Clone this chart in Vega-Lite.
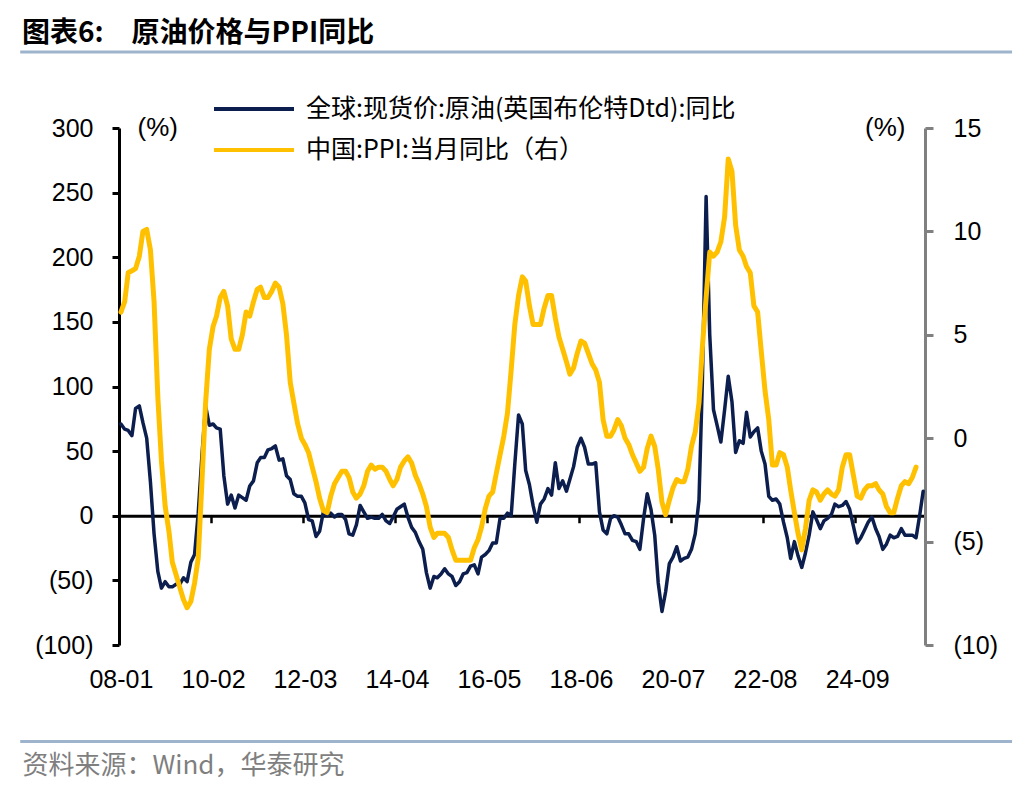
{
  "$schema": "https://vega.github.io/schema/vega-lite/v6.json",
  "autosize": {"type": "none"},
  "padding": {"left": 119, "top": 128, "right": 107, "bottom": 147},
  "width": 806,
  "height": 517,
  "background": "white",
  "title": {
    "text": "图表6:　原油价格与PPI同比",
    "anchor": "start",
    "frame": "group",
    "dx": -97,
    "dy": 11,
    "offset": 0,
    "baseline": "middle",
    "font": "Noto Sans CJK SC",
    "fontSize": 28,
    "fontWeight": "bold",
    "color": "#000000"
  },
  "data": {
    "format": {"parse": {"date": "date:'%Y-%m'"}},
    "values": [
      {"date": "2008-01", "brent": 71, "ppi": 6.1},
      {"date": "2008-02", "brent": 67, "ppi": 6.6},
      {"date": "2008-03", "brent": 66, "ppi": 8.0},
      {"date": "2008-04", "brent": 62, "ppi": 8.1},
      {"date": "2008-05", "brent": 83, "ppi": 8.2},
      {"date": "2008-06", "brent": 85, "ppi": 8.8},
      {"date": "2008-07", "brent": 72, "ppi": 10.0},
      {"date": "2008-08", "brent": 60, "ppi": 10.1},
      {"date": "2008-09", "brent": 26, "ppi": 9.1},
      {"date": "2008-10", "brent": -14, "ppi": 6.6},
      {"date": "2008-11", "brent": -43, "ppi": 2.0},
      {"date": "2008-12", "brent": -56, "ppi": -1.1},
      {"date": "2009-01", "brent": -51, "ppi": -3.3},
      {"date": "2009-02", "brent": -55, "ppi": -4.5},
      {"date": "2009-03", "brent": -55, "ppi": -6.0},
      {"date": "2009-04", "brent": -53, "ppi": -6.6},
      {"date": "2009-05", "brent": -53, "ppi": -7.2},
      {"date": "2009-06", "brent": -48, "ppi": -7.8},
      {"date": "2009-07", "brent": -51, "ppi": -8.2},
      {"date": "2009-08", "brent": -36, "ppi": -7.9},
      {"date": "2009-09", "brent": -30, "ppi": -7.0},
      {"date": "2009-10", "brent": 2, "ppi": -5.8},
      {"date": "2009-11", "brent": 47, "ppi": -2.1},
      {"date": "2009-12", "brent": 85, "ppi": 1.7},
      {"date": "2010-01", "brent": 70, "ppi": 4.3},
      {"date": "2010-02", "brent": 71, "ppi": 5.4},
      {"date": "2010-03", "brent": 68, "ppi": 5.9},
      {"date": "2010-04", "brent": 67, "ppi": 6.8},
      {"date": "2010-05", "brent": 31, "ppi": 7.1},
      {"date": "2010-06", "brent": 9, "ppi": 6.4},
      {"date": "2010-07", "brent": 16, "ppi": 4.8},
      {"date": "2010-08", "brent": 6, "ppi": 4.3},
      {"date": "2010-09", "brent": 16, "ppi": 4.3},
      {"date": "2010-10", "brent": 14, "ppi": 5.0},
      {"date": "2010-11", "brent": 12, "ppi": 6.1},
      {"date": "2010-12", "brent": 23, "ppi": 5.9},
      {"date": "2011-01", "brent": 27, "ppi": 6.6},
      {"date": "2011-02", "brent": 41, "ppi": 7.2},
      {"date": "2011-03", "brent": 45, "ppi": 7.3},
      {"date": "2011-04", "brent": 45, "ppi": 6.8},
      {"date": "2011-05", "brent": 51, "ppi": 6.8},
      {"date": "2011-06", "brent": 52, "ppi": 7.1},
      {"date": "2011-07", "brent": 54, "ppi": 7.5},
      {"date": "2011-08", "brent": 43, "ppi": 7.3},
      {"date": "2011-09", "brent": 44, "ppi": 6.5},
      {"date": "2011-10", "brent": 31, "ppi": 5.0},
      {"date": "2011-11", "brent": 28, "ppi": 2.7},
      {"date": "2011-12", "brent": 17, "ppi": 1.7},
      {"date": "2012-01", "brent": 15, "ppi": 0.7},
      {"date": "2012-02", "brent": 15, "ppi": 0.0},
      {"date": "2012-03", "brent": 10, "ppi": -0.3},
      {"date": "2012-04", "brent": -3, "ppi": -0.7},
      {"date": "2012-05", "brent": -4, "ppi": -1.4},
      {"date": "2012-06", "brent": -16, "ppi": -2.1},
      {"date": "2012-07", "brent": -12, "ppi": -2.9},
      {"date": "2012-08", "brent": 3, "ppi": -3.5},
      {"date": "2012-09", "brent": 0, "ppi": -3.6},
      {"date": "2012-10", "brent": 2, "ppi": -2.8},
      {"date": "2012-11", "brent": -1, "ppi": -2.2},
      {"date": "2012-12", "brent": 1, "ppi": -1.9},
      {"date": "2013-01", "brent": 1, "ppi": -1.6},
      {"date": "2013-02", "brent": -3, "ppi": -1.6},
      {"date": "2013-03", "brent": -14, "ppi": -1.9},
      {"date": "2013-04", "brent": -15, "ppi": -2.6},
      {"date": "2013-05", "brent": -7, "ppi": -2.9},
      {"date": "2013-06", "brent": 8, "ppi": -2.7},
      {"date": "2013-07", "brent": 3, "ppi": -2.3},
      {"date": "2013-08", "brent": -2, "ppi": -1.6},
      {"date": "2013-09", "brent": -1, "ppi": -1.3},
      {"date": "2013-10", "brent": -2, "ppi": -1.5},
      {"date": "2013-11", "brent": -2, "ppi": -1.4},
      {"date": "2013-12", "brent": 1, "ppi": -1.4},
      {"date": "2014-01", "brent": -4, "ppi": -1.6},
      {"date": "2014-02", "brent": -6, "ppi": -2.0},
      {"date": "2014-03", "brent": -1, "ppi": -2.3},
      {"date": "2014-04", "brent": 5, "ppi": -2.0},
      {"date": "2014-05", "brent": 7, "ppi": -1.4},
      {"date": "2014-06", "brent": 9, "ppi": -1.1},
      {"date": "2014-07", "brent": -1, "ppi": -0.9},
      {"date": "2014-08", "brent": -9, "ppi": -1.2},
      {"date": "2014-09", "brent": -13, "ppi": -1.8},
      {"date": "2014-10", "brent": -20, "ppi": -2.2},
      {"date": "2014-11", "brent": -26, "ppi": -2.7},
      {"date": "2014-12", "brent": -44, "ppi": -3.3},
      {"date": "2015-01", "brent": -56, "ppi": -4.3},
      {"date": "2015-02", "brent": -47, "ppi": -4.8},
      {"date": "2015-03", "brent": -48, "ppi": -4.6},
      {"date": "2015-04", "brent": -45, "ppi": -4.6},
      {"date": "2015-05", "brent": -41, "ppi": -4.6},
      {"date": "2015-06", "brent": -45, "ppi": -4.8},
      {"date": "2015-07", "brent": -47, "ppi": -5.4},
      {"date": "2015-08", "brent": -54, "ppi": -5.9},
      {"date": "2015-09", "brent": -51, "ppi": -5.9},
      {"date": "2015-10", "brent": -45, "ppi": -5.9},
      {"date": "2015-11", "brent": -44, "ppi": -5.9},
      {"date": "2015-12", "brent": -39, "ppi": -5.9},
      {"date": "2016-01", "brent": -38, "ppi": -5.3},
      {"date": "2016-02", "brent": -45, "ppi": -4.9},
      {"date": "2016-03", "brent": -32, "ppi": -4.3},
      {"date": "2016-04", "brent": -30, "ppi": -3.4},
      {"date": "2016-05", "brent": -27, "ppi": -2.8},
      {"date": "2016-06", "brent": -21, "ppi": -2.6},
      {"date": "2016-07", "brent": -21, "ppi": -1.7},
      {"date": "2016-08", "brent": -2, "ppi": -0.8},
      {"date": "2016-09", "brent": -2, "ppi": 0.1},
      {"date": "2016-10", "brent": 2, "ppi": 1.2},
      {"date": "2016-11", "brent": 0, "ppi": 3.3},
      {"date": "2016-12", "brent": 40, "ppi": 5.5},
      {"date": "2017-01", "brent": 78, "ppi": 6.9},
      {"date": "2017-02", "brent": 71, "ppi": 7.8},
      {"date": "2017-03", "brent": 35, "ppi": 7.6},
      {"date": "2017-04", "brent": 24, "ppi": 6.4},
      {"date": "2017-05", "brent": 8, "ppi": 5.5},
      {"date": "2017-06", "brent": -5, "ppi": 5.5},
      {"date": "2017-07", "brent": 9, "ppi": 5.5},
      {"date": "2017-08", "brent": 13, "ppi": 6.3},
      {"date": "2017-09", "brent": 21, "ppi": 6.9},
      {"date": "2017-10", "brent": 16, "ppi": 6.9},
      {"date": "2017-11", "brent": 41, "ppi": 5.8},
      {"date": "2017-12", "brent": 21, "ppi": 4.9},
      {"date": "2018-01", "brent": 27, "ppi": 4.3},
      {"date": "2018-02", "brent": 19, "ppi": 3.7},
      {"date": "2018-03", "brent": 28, "ppi": 3.1},
      {"date": "2018-04", "brent": 38, "ppi": 3.4},
      {"date": "2018-05", "brent": 53, "ppi": 4.1},
      {"date": "2018-06", "brent": 60, "ppi": 4.7},
      {"date": "2018-07", "brent": 53, "ppi": 4.6},
      {"date": "2018-08", "brent": 40, "ppi": 4.1},
      {"date": "2018-09", "brent": 40, "ppi": 3.6},
      {"date": "2018-10", "brent": 41, "ppi": 3.3},
      {"date": "2018-11", "brent": 3, "ppi": 2.7},
      {"date": "2018-12", "brent": -11, "ppi": 0.9},
      {"date": "2019-01", "brent": -14, "ppi": 0.1},
      {"date": "2019-02", "brent": -2, "ppi": 0.1},
      {"date": "2019-03", "brent": 0, "ppi": 0.4},
      {"date": "2019-04", "brent": -1, "ppi": 0.9},
      {"date": "2019-05", "brent": -7, "ppi": 0.6},
      {"date": "2019-06", "brent": -14, "ppi": 0.0},
      {"date": "2019-07", "brent": -14, "ppi": -0.3},
      {"date": "2019-08", "brent": -19, "ppi": -0.8},
      {"date": "2019-09", "brent": -20, "ppi": -1.2},
      {"date": "2019-10", "brent": -26, "ppi": -1.6},
      {"date": "2019-11", "brent": -2, "ppi": -1.4},
      {"date": "2019-12", "brent": 17, "ppi": -0.5},
      {"date": "2020-01", "brent": 5, "ppi": 0.1},
      {"date": "2020-02", "brent": -15, "ppi": -0.4},
      {"date": "2020-03", "brent": -52, "ppi": -1.5},
      {"date": "2020-04", "brent": -74, "ppi": -3.1},
      {"date": "2020-05", "brent": -59, "ppi": -3.7},
      {"date": "2020-06", "brent": -37, "ppi": -3.0},
      {"date": "2020-07", "brent": -32, "ppi": -2.4},
      {"date": "2020-08", "brent": -24, "ppi": -2.0},
      {"date": "2020-09", "brent": -35, "ppi": -2.1},
      {"date": "2020-10", "brent": -33, "ppi": -2.1},
      {"date": "2020-11", "brent": -32, "ppi": -1.5},
      {"date": "2020-12", "brent": -26, "ppi": -0.4},
      {"date": "2021-01", "brent": -14, "ppi": 0.3},
      {"date": "2021-02", "brent": 12, "ppi": 1.7},
      {"date": "2021-03", "brent": 104, "ppi": 4.4},
      {"date": "2021-04", "brent": 247, "ppi": 6.8},
      {"date": "2021-05", "brent": 140, "ppi": 9.0},
      {"date": "2021-06", "brent": 82, "ppi": 8.8},
      {"date": "2021-07", "brent": 70, "ppi": 9.0},
      {"date": "2021-08", "brent": 57, "ppi": 9.5},
      {"date": "2021-09", "brent": 82, "ppi": 10.7},
      {"date": "2021-10", "brent": 108, "ppi": 13.5},
      {"date": "2021-11", "brent": 88, "ppi": 12.9},
      {"date": "2021-12", "brent": 49, "ppi": 10.3},
      {"date": "2022-01", "brent": 58, "ppi": 9.1},
      {"date": "2022-02", "brent": 56, "ppi": 8.8},
      {"date": "2022-03", "brent": 80, "ppi": 8.3},
      {"date": "2022-04", "brent": 61, "ppi": 8.0},
      {"date": "2022-05", "brent": 65, "ppi": 6.4},
      {"date": "2022-06", "brent": 68, "ppi": 6.1},
      {"date": "2022-07", "brent": 50, "ppi": 4.2},
      {"date": "2022-08", "brent": 40, "ppi": 2.3},
      {"date": "2022-09", "brent": 15, "ppi": 0.9},
      {"date": "2022-10", "brent": 12, "ppi": -1.3},
      {"date": "2022-11", "brent": 13, "ppi": -1.3},
      {"date": "2022-12", "brent": 9, "ppi": -0.7},
      {"date": "2023-01", "brent": -5, "ppi": -0.8},
      {"date": "2023-02", "brent": -17, "ppi": -1.4},
      {"date": "2023-03", "brent": -33, "ppi": -2.5},
      {"date": "2023-04", "brent": -20, "ppi": -3.6},
      {"date": "2023-05", "brent": -31, "ppi": -4.6},
      {"date": "2023-06", "brent": -40, "ppi": -5.4},
      {"date": "2023-07", "brent": -29, "ppi": -4.4},
      {"date": "2023-08", "brent": -15, "ppi": -3.0},
      {"date": "2023-09", "brent": 3, "ppi": -2.5},
      {"date": "2023-10", "brent": -3, "ppi": -2.6},
      {"date": "2023-11", "brent": -10, "ppi": -3.0},
      {"date": "2023-12", "brent": -4, "ppi": -2.7},
      {"date": "2024-01", "brent": -2, "ppi": -2.5},
      {"date": "2024-02", "brent": 1, "ppi": -2.7},
      {"date": "2024-03", "brent": 9, "ppi": -2.8},
      {"date": "2024-04", "brent": 7, "ppi": -2.5},
      {"date": "2024-05", "brent": 8, "ppi": -1.4},
      {"date": "2024-06", "brent": 11, "ppi": -0.8},
      {"date": "2024-07", "brent": 5, "ppi": -0.8},
      {"date": "2024-08", "brent": -8, "ppi": -1.8},
      {"date": "2024-09", "brent": -21, "ppi": -2.8},
      {"date": "2024-10", "brent": -17, "ppi": -2.9},
      {"date": "2024-11", "brent": -11, "ppi": -2.5},
      {"date": "2024-12", "brent": -5, "ppi": -2.3},
      {"date": "2025-01", "brent": -1, "ppi": -2.3},
      {"date": "2025-02", "brent": -10, "ppi": -2.2},
      {"date": "2025-03", "brent": -16, "ppi": -2.5},
      {"date": "2025-04", "brent": -26, "ppi": -2.7},
      {"date": "2025-05", "brent": -22, "ppi": -3.3},
      {"date": "2025-06", "brent": -15, "ppi": -3.6},
      {"date": "2025-07", "brent": -17, "ppi": -3.6},
      {"date": "2025-08", "brent": -16, "ppi": -2.9},
      {"date": "2025-09", "brent": -10, "ppi": -2.3},
      {"date": "2025-10", "brent": -15, "ppi": -2.1},
      {"date": "2025-11", "brent": -15, "ppi": -2.2},
      {"date": "2025-12", "brent": -15, "ppi": -1.9},
      {"date": "2026-01", "brent": -17, "ppi": -1.4},
      {"date": "2026-02", "brent": 1},
      {"date": "2026-03", "brent": 19}
    ]
  },
  "layer": [
    {
      "mark": {"type": "line", "strokeWidth": 3.5, "strokeJoin": "round", "strokeCap": "round"},
      "encoding": {
        "x": {
          "field": "date",
          "type": "temporal",
          "scale": {"domain": [{"year": 2007, "month": 12, "date": 16}, {"year": 2026, "month": 3, "date": 16}]},
          "axis": {
            "orient": "bottom",
            "values": [
              {"year": 2008, "month": 1, "date": 1},
              {"year": 2010, "month": 2, "date": 1},
              {"year": 2012, "month": 3, "date": 1},
              {"year": 2014, "month": 4, "date": 1},
              {"year": 2016, "month": 5, "date": 1},
              {"year": 2018, "month": 6, "date": 1},
              {"year": 2020, "month": 7, "date": 1},
              {"year": 2022, "month": 8, "date": 1},
              {"year": 2024, "month": 9, "date": 1}
            ],
            "format": "%y-%m",
            "domain": false,
            "ticks": false,
            "grid": false,
            "labelFlush": false,
            "labelOverlap": false,
            "labelBound": false,
            "labelPadding": 22,
            "labelFont": "Liberation Sans",
            "labelFontSize": 25,
            "labelColor": "#000000",
            "title": "资料来源：Wind，华泰研究",
            "titleX": -97,
            "titleY": 120,
            "titleAlign": "left",
            "titleBaseline": "middle",
            "titleFont": "Noto Sans CJK SC",
            "titleFontSize": 26,
            "titleFontWeight": "normal",
            "titleColor": "#7F7F7F"
          }
        },
        "y": {
          "field": "brent",
          "type": "quantitative",
          "scale": {"domain": [-100, 300], "nice": false, "zero": false},
          "axis": {
            "orient": "left",
            "values": [-100, -50, 0, 50, 100, 150, 200, 250, 300],
            "labelExpr": "datum.value < 0 ? '(' + format(-datum.value, 'd') + ')' : format(datum.value, 'd')",
            "grid": false,
            "domainColor": "#000000",
            "domainWidth": 3,
            "tickColor": "#000000",
            "tickWidth": 3,
            "tickSize": 7,
            "labelPadding": 19,
            "labelFont": "Liberation Sans",
            "labelFontSize": 25,
            "labelColor": "#000000",
            "title": "(%)",
            "titleAngle": 0,
            "titleX": 18,
            "titleY": -1,
            "titleAlign": "left",
            "titleBaseline": "middle",
            "titleFont": "Liberation Sans",
            "titleFontSize": 26,
            "titleFontWeight": "normal",
            "titleColor": "#000000"
          }
        },
        "color": {
          "datum": "全球:现货价:原油(英国布伦特Dtd):同比",
          "type": "nominal",
          "scale": {
            "domain": ["全球:现货价:原油(英国布伦特Dtd):同比", "中国:PPI:当月同比（右）"],
            "range": ["#0C1E4E", "#FFC000"]
          },
          "legend": {
            "orient": "none",
            "legendX": 93,
            "legendY": -39.5,
            "direction": "vertical",
            "title": null,
            "padding": 0,
            "symbolType": "stroke",
            "symbolSize": 6400,
            "symbolStrokeWidth": 4,
            "clipHeight": 41,
            "labelFont": "Noto Sans CJK SC",
            "labelFontSize": 25,
            "labelColor": "#000000",
            "labelLimit": 800,
            "labelOffset": 10,
            "rowPadding": 0
          }
        }
      }
    },
    {
      "data": {"values": [{}]},
      "mark": {"type": "rule", "strokeWidth": 3, "color": "#9EB4CD"},
      "encoding": {
        "x": {"datum": {"year": 2005, "month": 9, "date": 20}, "type": "temporal", "axis": null},
        "x2": {"datum": {"year": 2028, "month": 3, "date": 5}},
        "y": {"datum": 358.8, "type": "quantitative", "scale": {"domain": [-100, 300], "nice": false, "zero": false}, "axis": null}
      }
    },
    {
      "data": {"values": [{}]},
      "mark": {"type": "rule", "strokeWidth": 3, "color": "#9EB4CD"},
      "encoding": {
        "x": {"datum": {"year": 2005, "month": 9, "date": 20}, "type": "temporal", "axis": null},
        "x2": {"datum": {"year": 2028, "month": 3, "date": 5}},
        "y": {"datum": -174.7, "type": "quantitative", "scale": {"domain": [-100, 300], "nice": false, "zero": false}, "axis": null}
      }
    },
    {
      "mark": {"type": "line", "strokeWidth": 5, "strokeJoin": "round", "strokeCap": "round"},
      "encoding": {
        "x": {
          "field": "date",
          "type": "temporal",
          "axis": {
            "orient": "bottom",
            "offset": -129.25,
            "values": [
              {"year": 2010, "month": 1, "date": 16},
              {"year": 2012, "month": 2, "date": 15},
              {"year": 2014, "month": 3, "date": 16},
              {"year": 2016, "month": 4, "date": 16},
              {"year": 2018, "month": 5, "date": 16},
              {"year": 2020, "month": 6, "date": 16},
              {"year": 2022, "month": 7, "date": 16},
              {"year": 2024, "month": 8, "date": 16}
            ],
            "labels": false,
            "grid": false,
            "domain": true,
            "domainColor": "#000000",
            "domainWidth": 3,
            "ticks": true,
            "tickColor": "#000000",
            "tickWidth": 2.5,
            "tickSize": 7,
            "title": null
          }
        },
        "y": {
          "field": "ppi",
          "type": "quantitative",
          "scale": {"domain": [-10, 15], "nice": false, "zero": false},
          "axis": {
            "orient": "right",
            "values": [-10, -5, 0, 5, 10, 15],
            "labelExpr": "datum.value < 0 ? '(' + format(-datum.value, 'd') + ')' : format(datum.value, 'd')",
            "grid": false,
            "domainColor": "#808080",
            "domainWidth": 3,
            "tickColor": "#808080",
            "tickWidth": 3,
            "tickSize": 8,
            "labelPadding": 20,
            "labelFont": "Liberation Sans",
            "labelFontSize": 25,
            "labelColor": "#000000",
            "title": "(%)",
            "titleAngle": 0,
            "titleX": -20,
            "titleY": -1,
            "titleAlign": "right",
            "titleBaseline": "middle",
            "titleFont": "Liberation Sans",
            "titleFontSize": 26,
            "titleFontWeight": "normal",
            "titleColor": "#000000"
          }
        },
        "color": {"datum": "中国:PPI:当月同比（右）", "type": "nominal"}
      }
    }
  ],
  "resolve": {"scale": {"y": "independent"}, "axis": {"x": "independent"}},
  "config": {
    "view": {"stroke": null},
    "axis": {"zindex": 0}
  }
}
